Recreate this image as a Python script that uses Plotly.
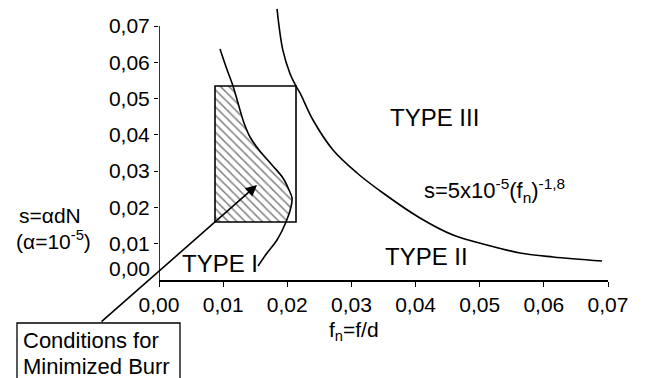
import plotly.graph_objects as go

# ---- data ----
# boundary curve s = 5e-5 (fn)^-1.8 (as drawn)
big_fn = [0.0184, 0.0193, 0.0204, 0.02136, 0.0220, 0.02401, 0.02713, 0.03087,
          0.03492, 0.04069, 0.04584, 0.05114, 0.05628, 0.06143, 0.06907]
big_s = [0.0747, 0.0634, 0.0570, 0.05346, 0.0515, 0.04409, 0.03583, 0.02949,
         0.02398, 0.01709, 0.0124, 0.00965, 0.00744, 0.00634, 0.00524]

# Type I boundary curve
t1_fn = [0.00951, 0.01050, 0.01154, 0.01263, 0.01325, 0.01419, 0.01559, 0.01762,
         0.01933, 0.02027, 0.02074, 0.02058, 0.0198, 0.0184, 0.01684, 0.01544]
t1_s = [0.06366, 0.0585, 0.05346, 0.04685, 0.04327, 0.03941, 0.03583, 0.03169,
        0.02811, 0.0248, 0.0226, 0.02012, 0.01598, 0.01102, 0.00744, 0.00386]

# conditions rectangle
rect_fn = [0.00873, 0.02136]
rect_s = [0.01598, 0.05346]

# arrow target (conditions for minimized burr)
arrow_fn = 0.01528
arrow_s = 0.02618

tick_vals = [0.00, 0.01, 0.02, 0.03, 0.04, 0.05, 0.06, 0.07]
x_tick_text = ["0,00", "0,01", "0,02", "0,03", "0,04", "0,05", "0,06", "0,07"]
y_tick_vals = [0.01, 0.02, 0.03, 0.04, 0.05, 0.06, 0.07]
y_tick_text = ["0,01", "0,02", "0,03", "0,04", "0,05", "0,06", "0,07"]

# region labels (fn, s, text)
region_labels = [
    (0.04288, 0.04465, "TYPE III"),
    (0.04178, 0.00661, "TYPE II"),
    (0.00951, 0.00468, "TYPE I"),
]

FONT = "Arial, Liberation Sans, sans-serif"
OFF = 8  # page body margin
W, H = 646, 378
# screen geometry of the plot area
SX0, SX1 = 159, 608      # x = 0 .. 0.07
SY_TOP, SY0 = 8, 280     # plot top, y = 0
L = SX0 - OFF
R = W - (SX1 - OFF)
T = SY_TOP - OFF
B = H - (SY0 - OFF)
X_MAX = 0.07
Y_MAX = (SY0 - SY_TOP) * 0.07 / 254.0


def px(sx):
    return (sx - SX0) / (SX1 - SX0)


def py(sy):
    return (SY0 - sy) / (SY0 - SY_TOP)


fig = go.Figure()

# hatched region: inside rectangle, left of Type I curve
inside = [(x, y) for x, y in zip(t1_fn, t1_s) if rect_s[0] - 1e-9 <= y <= rect_s[1] + 1e-9]
hx = [rect_fn[0]] + [p[0] for p in inside] + [rect_fn[0], rect_fn[0]]
hy = [rect_s[1]] + [p[1] for p in inside] + [rect_s[0], rect_s[1]]
fig.add_trace(go.Scatter(
    x=hx, y=hy, mode="lines", fill="toself",
    line=dict(width=0, color="rgba(0,0,0,0)"),
    fillcolor="white",
    fillpattern=dict(shape="\\", size=6, solidity=0.25, fgcolor="black", bgcolor="white"),
    hoverinfo="skip", showlegend=False))

# rectangle
fig.add_trace(go.Scatter(
    x=[rect_fn[0], rect_fn[1], rect_fn[1], rect_fn[0], rect_fn[0]],
    y=[rect_s[0], rect_s[0], rect_s[1], rect_s[1], rect_s[0]],
    mode="lines", line=dict(color="black", width=1.6), showlegend=False))

# curves
fig.add_trace(go.Scatter(x=big_fn, y=big_s, mode="lines",
                         line=dict(color="black", width=1.6, shape="spline"),
                         showlegend=False))
fig.add_trace(go.Scatter(x=t1_fn, y=t1_s, mode="lines",
                         line=dict(color="black", width=1.6, shape="spline"),
                         showlegend=False))

annotations = []
for x, y, t in region_labels:
    annotations.append(dict(x=x, y=y, xref="x", yref="y", text=t, showarrow=False,
                            xanchor="center", yanchor="middle",
                            font=dict(size=24, color="black", family=FONT)))

annotations.append(dict(x=0.041, y=0.0248, xref="x", yref="y", xanchor="left",
                        yanchor="middle",
                        text="s=5x10<sup>-5</sup>(f<sub>n</sub>)<sup>-1,8</sup>",
                        showarrow=False, font=dict(size=22, color="black", family=FONT)))


def paper_text(sx, sy, text, size, xanchor="center"):
    return dict(x=px(sx), y=py(sy), xref="paper", yref="paper",
                xanchor=xanchor, yanchor="middle", text=text, showarrow=False,
                font=dict(size=size, color="black", family=FONT))


# y "0,00" label (drawn above the x axis)
annotations.append(paper_text(152, 268, "0,00", 21, xanchor="right"))
# axis titles
annotations.append(paper_text(354, 331, "f<sub>n</sub>=f/d", 21))
annotations.append(paper_text(50, 215, "s=αdN", 21))
annotations.append(paper_text(53, 240, "(α=10<sup>-5</sup>)", 21))
# box text
annotations.append(paper_text(21, 340, "Conditions for", 22, xanchor="left"))
annotations.append(paper_text(21, 366, "Minimized Burr", 22, xanchor="left"))

# arrow
annotations.append(dict(x=arrow_fn, y=arrow_s, xref="x", yref="y", text="",
                        showarrow=True, ax=-157, ay=138, arrowhead=2, arrowsize=1.4,
                        arrowwidth=1.6, arrowcolor="black", standoff=0))

shapes = [
    # y axis line from 0 to 0.07
    dict(type="line", xref="x", yref="y", x0=0, x1=0, y0=0, y1=0.07,
         line=dict(color="black", width=1.6)),
    # box around label
    dict(type="rect", xref="paper", yref="paper", x0=px(17), x1=px(180),
         y0=py(323), y1=py(420), line=dict(color="black", width=1.3),
         fillcolor="rgba(0,0,0,0)"),
]

fig.update_layout(
    width=W, height=H, autosize=False,
    margin=dict(l=L, r=R, t=T, b=B, pad=0),
    paper_bgcolor="white", plot_bgcolor="white",
    font=dict(family=FONT, size=21, color="black"),
    showlegend=False,
    annotations=annotations,
    shapes=shapes,
    xaxis=dict(range=[0, X_MAX], showgrid=False, zeroline=False, automargin=False,
               showline=True, linecolor="black", linewidth=1.6,
               ticks="outside", ticklen=5, tickwidth=1.3, tickcolor="black",
               tickvals=tick_vals, ticktext=x_tick_text,
               tickfont=dict(size=21, family=FONT, color="black")),
    yaxis=dict(range=[0, Y_MAX], showgrid=False, zeroline=False, automargin=False,
               showline=False,
               ticks="outside", ticklen=4, tickwidth=1.3, tickcolor="black",
               tickvals=y_tick_vals, ticktext=y_tick_text,
               tickfont=dict(size=21, family=FONT, color="black")),
)

fig.write_html("out.html")
